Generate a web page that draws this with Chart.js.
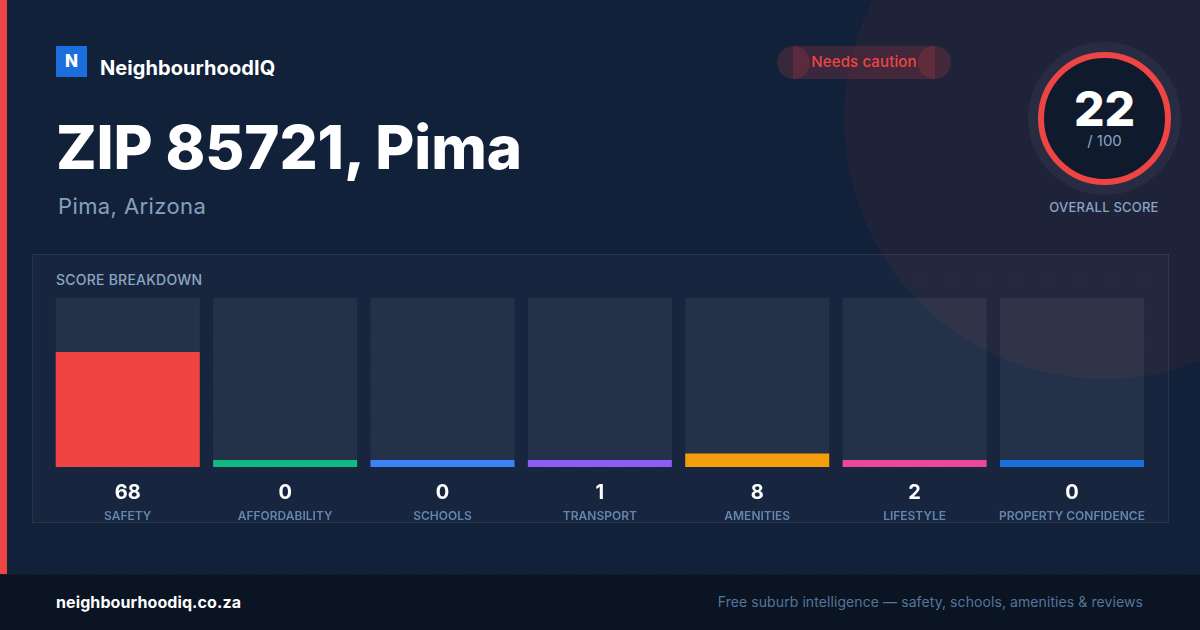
<!DOCTYPE html>
<html>
<head>
<meta charset="utf-8">
<title>ZIP 85721, Pima</title>
<script src="https://cdn.jsdelivr.net/npm/chart.js@4"></script>
<style>
    * { margin: 0; padding: 0; box-sizing: border-box; }
    html, body { width: 1200px; height: 630px; overflow: hidden; background: #12213a; }
    body { position: relative; font-family: Inter, sans-serif; color: #fff; }
    .abs { position: absolute; white-space: nowrap; }
    #dots { left: 0; top: 0; width: 1200px; height: 630px;
        background-image: radial-gradient(circle at 24px 24px, rgba(255,255,255,.03) 1px, transparent 1.5px);
        background-size: 32px 32px; }
    #glow { left: 844px; top: -141px; width: 520px; height: 520px; border-radius: 50%; background: rgba(239,68,68,.055); }
    #stripe { left: 0; top: 0; width: 7px; height: 574px; background: #ef4444; }
    #logo { left: 56px; top: 46px; width: 31px; height: 31px; background: #1a6fdc; font-size: 17px; font-weight: 800; line-height: 31px; text-align: center; }
    #brand { left: 100px; top: 55px; font-size: 20px; font-weight: 700; line-height: 26px; letter-spacing: .07px; }
    #title { left: 56px; top: 111px; font-size: 60px; font-weight: 800; line-height: 72px; letter-spacing: -.13px; }
    #place { left: 58px; top: 191px; font-size: 22px; line-height: 30px; letter-spacing: .4px; color: #84a0c0; }
    .pill { background: rgba(239,68,68,.18); height: 33px; top: 46px; }
    .pill.end { width: 33px; border-radius: 50%; }
    #pillText { left: 777px; width: 174px; top: 46px; height: 33px; line-height: 32px; text-align: center; font-size: 15px; font-weight: 500; letter-spacing: .13px; color: #ef4444; }
    #halo { left: 1028px; top: 42px; width: 153px; height: 153px; border-radius: 50%; background: rgba(255,255,255,.045); }
    #ring { left: 1038px; top: 52px; width: 133px; height: 133px; border-radius: 50%; background: #0f1b2d; border: 6px solid #ef4444; }
    #score { left: 1038px; width: 133px; top: 80px; text-align: center; font-size: 48px; font-weight: 800; line-height: 58px; }
    #outOf { left: 1038px; width: 133px; top: 131px; text-align: center; font-size: 15px; line-height: 20px; color: #8ba5c4; }
    #overall { left: 1004px; width: 200px; top: 198px; text-align: center; font-size: 13px; font-weight: 500; line-height: 18px; letter-spacing: .22px; color: #8ba5c4; }
    #panel { left: 32px; top: 254px; width: 1137px; height: 269px; background: rgba(255,255,255,.025); border: 1px solid rgba(255,255,255,.07); }
    #panelTitle { left: 56px; top: 271px; font-size: 14px; font-weight: 500; line-height: 18px; letter-spacing: .23px; color: #8ba5c4; }
    #scoreChart { position: absolute; left: 0; top: 0; }
    #footer { left: 0; top: 574px; width: 1200px; height: 56px; background: #0a1422; border-top: 1px solid rgba(255,255,255,.04); }
    #site { left: 56px; top: 592px; font-size: 16px; font-weight: 700; line-height: 20px; letter-spacing: .1px; }
    #tagline { right: 57px; top: 593px; font-size: 14px; line-height: 18px; letter-spacing: .085px; color: #56759c; }
</style>
</head>
<body>
    <div class="abs" id="dots"></div>
    <div class="abs" id="glow"></div>
    <div class="abs" id="stripe"></div>
    <div class="abs" id="logo">N</div>
    <div class="abs" id="brand">NeighbourhoodIQ</div>
    <div class="abs" id="title">ZIP 85721, Pima</div>
    <div class="abs" id="place">Pima, Arizona</div>
    <div class="abs pill end" style="left:777px"></div>
    <div class="abs pill" style="left:793px;width:142px"></div>
    <div class="abs pill end" style="left:918px"></div>
    <div class="abs" id="pillText">Needs caution</div>
    <div class="abs" id="halo"></div>
    <div class="abs" id="ring"></div>
    <div class="abs" id="score"></div>
    <div class="abs" id="outOf">/ 100</div>
    <div class="abs" id="overall">OVERALL SCORE</div>
    <div class="abs" id="panel"></div>
    <div class="abs" id="panelTitle">SCORE BREAKDOWN</div>
    <canvas id="scoreChart" width="1200" height="630"></canvas>
    <div class="abs" id="footer"></div>
    <div class="abs" id="site">neighbourhoodiq.co.za</div>
    <div class="abs" id="tagline">Free suburb intelligence — safety, schools, amenities &amp; reviews</div>

<script>
const overallScore = 22;
const categories = ['SAFETY', 'AFFORDABILITY', 'SCHOOLS', 'TRANSPORT', 'AMENITIES', 'LIFESTYLE', 'PROPERTY CONFIDENCE'];
const scores = [68, 0, 0, 1, 8, 2, 0];
const trackValues = [100, 100, 100, 100, 100, 100, 100];
const barColors = ['#ef4444', '#10b981', '#3b82f6', '#8b5cf6', '#f59e0b', '#ec4899', '#1a6fdc'];

document.getElementById('score').textContent = overallScore;

// numbers above the category names
const scoreLabels = {
    id: 'scoreLabels',
    afterDatasetsDraw(chart) {
        const ctx = chart.ctx;
        const meta = chart.getDatasetMeta(1);
        ctx.save();
        ctx.font = '700 20px Inter';
        ctx.fillStyle = '#ffffff';
        ctx.textAlign = 'center';
        ctx.textBaseline = 'middle';
        meta.data.forEach((bar, i) => {
            ctx.fillText(scores[i], bar.x, 493);
        });
        ctx.restore();
    }
};

new Chart(document.getElementById('scoreChart'), {
    type: 'bar',
    data: {
        labels: categories,
        datasets: [{
            data: trackValues,
            backgroundColor: 'rgba(255,255,255,0.06)',
            order: 2
        }, {
            data: scores,
            backgroundColor: barColors,
            minBarLength: 7,
            order: 1
        }]
    },
    options: {
        responsive: false,
        animation: false,
        devicePixelRatio: 1,
        layout: { padding: { left: 49.065, right: 49.345, top: 298, bottom: 103 } },
        datasets: { bar: { grouped: false, barPercentage: 0.91504, categoryPercentage: 1 } },
        plugins: { legend: { display: false }, tooltip: { enabled: false } },
        scales: {
            y: { display: false, min: 0, max: 100 },
            x: {
                afterFit: scale => { scale.height = 60; },
                grid: { display: false, drawTicks: false },
                border: { display: false },
                ticks: {
                    autoSkip: false,
                    maxRotation: 0,
                    padding: 42,
                    color: '#6485ad',
                    font: { family: 'Inter', size: 12, weight: '600' }
                }
            }
        }
    },
    plugins: [scoreLabels]
});
</script>
</body>
</html>
